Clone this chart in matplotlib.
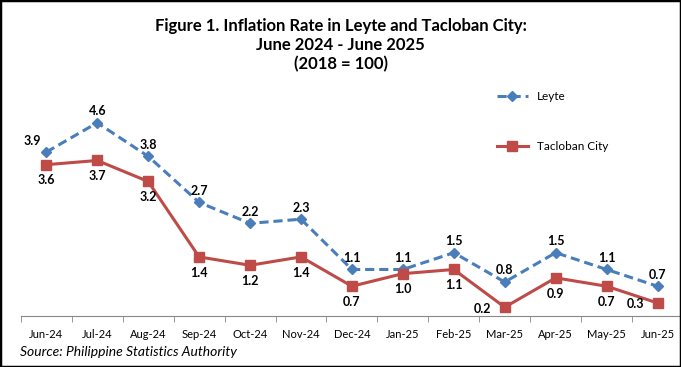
import matplotlib.pyplot as plt
from matplotlib.patches import Rectangle

plt.rcParams['font.family'] = ['Lato', 'DejaVu Sans']

months = ["Jun-24", "Jul-24", "Aug-24", "Sep-24", "Oct-24", "Nov-24", "Dec-24",
          "Jan-25", "Feb-25", "Mar-25", "Apr-25", "May-25", "Jun-25"]
leyte = [3.9, 4.6, 3.8, 2.7, 2.2, 2.3, 1.1, 1.1, 1.5, 0.8, 1.5, 1.1, 0.7]
tacloban = [3.6, 3.7, 3.2, 1.4, 1.2, 1.4, 0.7, 1.0, 1.1, 0.2, 0.9, 0.7, 0.3]

blue = "#4A7EBB"
red = "#BE4B48"

fig = plt.figure(figsize=(6.81, 3.67), dpi=100)
ax = fig.add_axes([20.8 / 681, 1 - 316 / 367, 660.2 / 681, 210 / 367])

x = list(range(len(months)))
ax.plot(x, leyte, color=blue, lw=2.2, ls=(0, (3, 1.6)), marker="D", ms=5,
        label="Leyte")
ax.plot(x, tacloban, color=red, lw=2.2, marker="s", ms=6.5, label="Tacloban City")

for i, v in enumerate(leyte):
    dx = -10 if i == 0 else 0
    ax.annotate(f"{v:.1f}", (i, v), xytext=(dx, 4), textcoords="offset points",
                ha="center", va="bottom", fontsize=9, fontweight="bold")
for i, v in enumerate(tacloban):
    if i in (9, 12):
        ax.annotate(f"{v:.1f}", (i, v), xytext=(-16, -1), textcoords="offset points",
                    ha="center", va="center", fontsize=9, fontweight="bold")
    else:
        ax.annotate(f"{v:.1f}", (i, v), xytext=(0, -7), textcoords="offset points",
                    ha="center", va="top", fontsize=9, fontweight="bold")

ax.set_xlim(-0.5, 12.46)
ax.set_ylim(-0.01, 5.0)
ax.set_xticks(x)
ax.set_xticklabels(months, fontsize=8)
ax.set_xticks([i - 0.5 for i in range(13)], minor=True)
ax.tick_params(axis="x", which="major", length=0, pad=9)
ax.tick_params(axis="x", which="minor", length=4, color="#888888")
ax.set_yticks([])
for s in ["top", "right", "left"]:
    ax.spines[s].set_visible(False)
ax.spines["bottom"].set_color("#888888")

ax.legend(loc="upper left", bbox_to_anchor=(0.705, 1.12), frameon=False,
          fontsize=8.5, labelspacing=3.3, handlelength=2.6)

fig.text(0.5, 0.952, "Figure 1. Inflation Rate in Leyte and Tacloban City:\nJune 2024 - June 2025\n(2018 = 100)",
         ha="center", va="top", fontsize=12, fontweight="bold", linespacing=1.25)
fig.text(20 / 681, 1 - 352 / 367, "Source: Philippine Statistics Authority",
         ha="left", va="center", fontsize=10, style="italic")

fig.patches.append(Rectangle((0, 0), 1, 1, transform=fig.transFigure, fill=False,
                             edgecolor="black", lw=2.5))

fig.savefig("out.png", dpi=100)
